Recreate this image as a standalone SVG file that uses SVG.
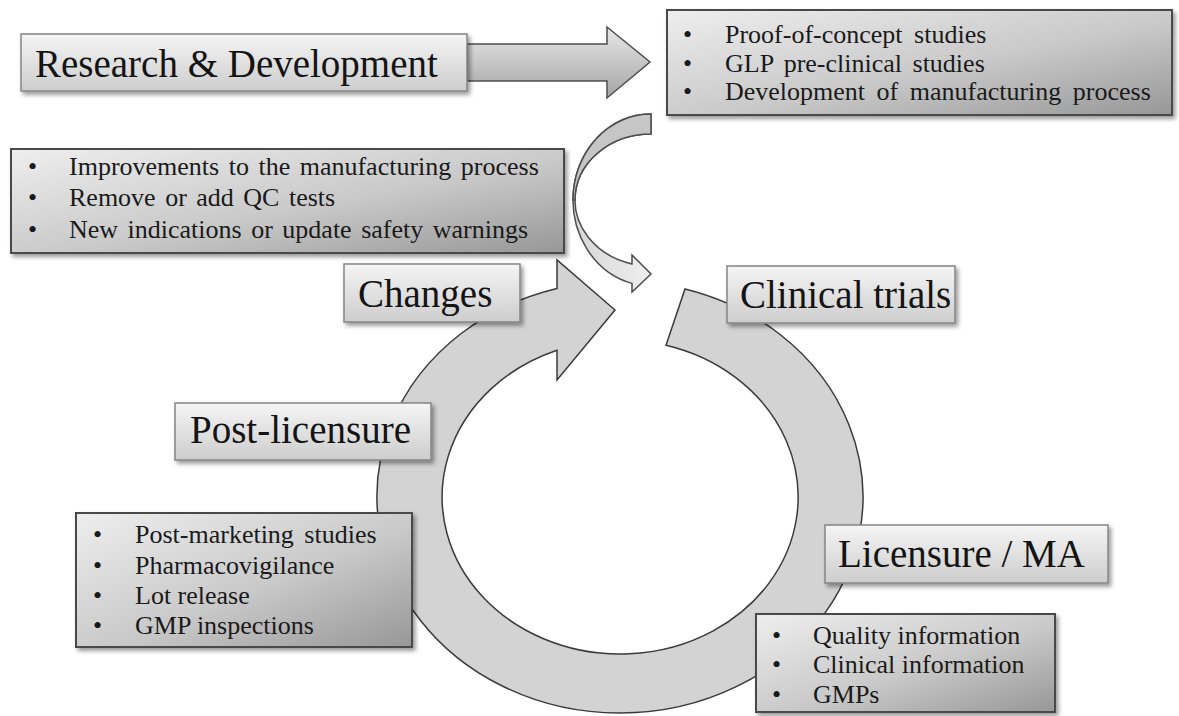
<svg xmlns="http://www.w3.org/2000/svg" width="1179" height="716" viewBox="0 0 1179 716">
  <defs>
    <linearGradient id="labelFill" x1="0" y1="0" x2="0" y2="1">
      <stop offset="0" stop-color="#f5f5f5"/>
      <stop offset="1" stop-color="#cdcdcd"/>
    </linearGradient>
    <linearGradient id="listFill" x1="0" y1="0" x2="1" y2="1">
      <stop offset="0" stop-color="#eeeeee"/>
      <stop offset="0.55" stop-color="#c9c9c9"/>
      <stop offset="1" stop-color="#979797"/>
    </linearGradient>
    <linearGradient id="shaftFill" x1="0" y1="0" x2="0" y2="1">
      <stop offset="0" stop-color="#e8e8e8"/>
      <stop offset="1" stop-color="#a4a4a4"/>
    </linearGradient>
    <linearGradient id="frontFill" x1="0" y1="0" x2="1" y2="0">
      <stop offset="0" stop-color="#d6d6d6"/>
      <stop offset="1" stop-color="#efefef"/>
    </linearGradient>
    <filter id="shadow" x="-10%" y="-20%" width="125%" height="150%">
      <feDropShadow dx="2.5" dy="3" stdDeviation="2.2" flood-color="#000" flood-opacity="0.4"/>
    </filter>
  </defs>
  <style>
    .label { fill: url(#labelFill); stroke: #858585; stroke-width: 1.5; filter: url(#shadow); }
    .list { fill: url(#listFill); stroke: #4a4a4a; stroke-width: 2; filter: url(#shadow); }
    .big { font-size: 39px; fill: #141414; }
    .item { font-size: 26px; fill: #1a1a1a; }
    .flow { stroke: #4d4d4d; stroke-width: 1.5; stroke-linejoin: miter; }
  </style>
  <rect width="1179" height="716" fill="#ffffff"/>

  <!-- connectors: R&D block arrow, folding curved arrow, circular cycle arrow -->
  <g id="connectors">
    <path class="flow" fill="url(#shaftFill)" d="M467,44 L607,44 L607,27 L650,62 L607,98 L607,81 L467,81 Z"/>
    <path id="curved-arrow" class="flow" fill="url(#frontFill)"
          d="M651,114 A78,86 0 0,0 632,283.4 L632,292 L651,274 L632,255 L632,263.9 A76,66 0 0,1 651,134 Z"/>
    <path class="flow" fill="#c6c6c6" d="M651,114 A78,86 0 0,0 573,200 L575,200 A76,66 0 0,1 651,134 Z"/>
    <path id="cycle-arrow" fill="#d3d3d3" stroke="#3a3a3a" stroke-width="1.5"
          d="M685,288.9 A243,216 0 1,1 557,288.4 L557,260 L615,310 L557,380 L557,350.2 A178,157 0 1,0 666,345.3 Z"/>
  </g>

  <g font-family="'Liberation Serif', 'Times New Roman', 'DejaVu Serif', serif">
  <g id="node-rd">
    <rect class="label" x="21" y="34" width="446" height="57"/>
    <text class="big" x="35" y="77" font-size="40">Research &amp; Development</text>
  </g>

  <g id="node-rd-list">
    <rect class="list" x="667" y="10" width="505" height="105"/>
    <text class="item" x="683" y="43">•</text>
    <text class="item" x="683" y="72">•</text>
    <text class="item" x="683" y="100">•</text>
    <text class="item" x="725" y="43" word-spacing="5">Proof-of-concept studies</text>
    <text class="item" x="725" y="72" word-spacing="4">GLP pre-clinical studies</text>
    <text class="item" x="725" y="100" word-spacing="5">Development of manufacturing process</text>
  </g>

  <g id="node-changes-list">
    <rect class="list" x="11" y="149" width="553" height="104"/>
    <text class="item" x="28" y="175">•</text>
    <text class="item" x="28" y="206">•</text>
    <text class="item" x="28" y="238">•</text>
    <text class="item" x="69" y="175" word-spacing="3">Improvements to the manufacturing process</text>
    <text class="item" x="69" y="206" word-spacing="3">Remove or add QC tests</text>
    <text class="item" x="69" y="238" word-spacing="3">New indications or update safety warnings</text>
  </g>

  <g id="node-changes">
    <rect class="label" x="344" y="264" width="176" height="58"/>
    <text class="big" x="358" y="307" font-size="38">Changes</text>
  </g>

  <g id="node-clinical">
    <rect class="label" x="727" y="266" width="228" height="57"/>
    <text class="big" x="740" y="308" font-size="38">Clinical trials</text>
  </g>

  <g id="node-post">
    <rect class="label" x="175" y="403" width="256" height="57"/>
    <text class="big" x="190" y="443">Post-licensure</text>
  </g>

  <g id="node-post-list">
    <rect class="list" x="76" y="513" width="336" height="134"/>
    <text class="item" x="93" y="543">•</text>
    <text class="item" x="93" y="574">•</text>
    <text class="item" x="93" y="604">•</text>
    <text class="item" x="93" y="634">•</text>
    <text class="item" x="135" y="543" word-spacing="4">Post-marketing studies</text>
    <text class="item" x="135" y="574">Pharmacovigilance</text>
    <text class="item" x="135" y="604">Lot release</text>
    <text class="item" x="135" y="634">GMP inspections</text>
  </g>

  <g id="node-licensure">
    <rect class="label" x="825" y="525" width="283" height="58"/>
    <text class="big" x="838" y="567" font-size="40">Licensure / MA</text>
  </g>

  <g id="node-licensure-list">
    <rect class="list" x="756" y="614" width="299" height="98"/>
    <text class="item" x="772" y="644">•</text>
    <text class="item" x="772" y="673">•</text>
    <text class="item" x="772" y="703">•</text>
    <text class="item" x="813" y="644">Quality information</text>
    <text class="item" x="813" y="673">Clinical information</text>
    <text class="item" x="813" y="703">GMPs</text>
  </g>
  </g>
</svg>
